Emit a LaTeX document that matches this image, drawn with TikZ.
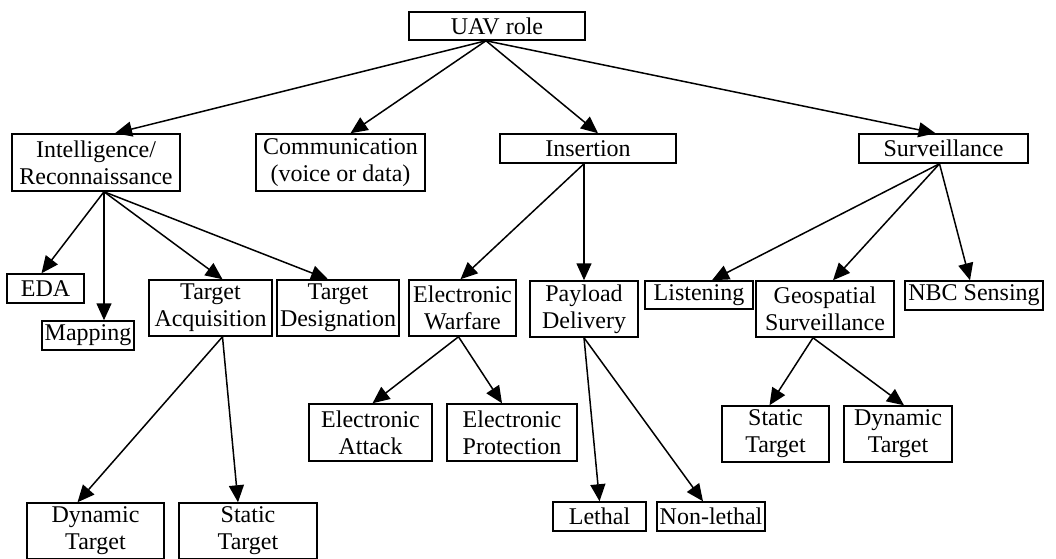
\documentclass[tikz,border=0pt]{standalone}
\usepackage{fontspec}
\setmainfont{Liberation Serif}
\usetikzlibrary{arrows.meta}
\begin{document}
\begin{tikzpicture}[x=1pt,y=-1pt,
  box/.style={draw,line width=1.5pt,inner sep=0pt,align=center,
    font=\fontsize{24}{27}\selectfont},
  arr/.style={line width=1.5pt,-{Triangle[length=17pt,width=15pt]}}]
\clip (0,0) rectangle (1056,558);

% top
\node [box,minimum width=176,minimum height=28] (uav) at (497,26) {UAV role};

% roles
\node [box,minimum width=168,minimum height=57] (intel) at (96,162.5) {Intelligence/\\Reconnaissance};
\node [box,minimum width=169,minimum height=57] (comm) at (340.5,162.5) {Communication\\(voice or data)};
\node [box,minimum width=176,minimum height=29] (insert) at (588,148.5) {Insertion};
\node [box,minimum width=169,minimum height=29] (surv) at (943.5,148.5) {Surveillance};

% third row
\node [box,minimum width=77,minimum height=29] (eda) at (45.5,288.5) {EDA};
\node [box,minimum width=92,minimum height=29] (mapping) at (88,335.5) {Mapping};
\node [box,minimum width=123,minimum height=56] (tacq) at (210.5,308) {Target\\Acquisition};
\node [box,minimum width=122,minimum height=56] (tdes) at (338,308) {Target\\Designation};
\node [box,minimum width=107,minimum height=56] (ewar) at (462.5,308) {Electronic\\Warfare};
\node [box,minimum width=108,minimum height=56] (pay) at (584,309) {Payload\\Delivery};
\node [box,minimum width=108,minimum height=28] (listen) at (699,295) {Listening};
\node [box,minimum width=138,minimum height=56] (geo) at (825,309) {Geospatial\\Surveillance};
\node [box,minimum width=138,minimum height=29] (nbc) at (974,295.5) {NBC Sensing};

% lower rows
\node [box,minimum width=123,minimum height=57] (eatt) at (370.5,432.5) {Electronic\\Attack};
\node [box,minimum width=130,minimum height=57] (eprot) at (512,432.5) {Electronic\\Protection};
\node [box,minimum width=107,minimum height=56] (gstat) at (775.5,434) {Static\\Target};
\node [box,minimum width=108,minimum height=56] (gdyn) at (898,434) {Dynamic\\Target};
\node [box,minimum width=93,minimum height=29] (lethal) at (599.5,516.5) {Lethal};
\node [box,minimum width=108,minimum height=29] (nonlethal) at (711,516.5) {Non-lethal};
\node [box,minimum width=137,minimum height=56] (tdyn) at (95.5,531) {Dynamic\\Target};
\node [box,minimum width=138,minimum height=56] (tstat) at (248,531) {Static\\Target};

% arrows
\draw [arr] ([xshift=-11pt]uav.south) -- ([xshift=19pt]intel.north);
\draw [arr] ([xshift=-11pt]uav.south) -- ([xshift=10pt]comm.north);
\draw [arr] ([xshift=-11pt]uav.south) -- ([xshift=10pt]insert.north);
\draw [arr] ([xshift=-11pt]uav.south) -- ([xshift=-8pt]surv.north);

\draw [arr] ([xshift=8pt]intel.south) -- ([xshift=-4pt]eda.north);
\draw [arr] ([xshift=8pt]intel.south) -- ([xshift=16pt]mapping.north);
\draw [arr] ([xshift=8pt]intel.south) -- ([xshift=12pt]tacq.north);
\draw [arr] ([xshift=8pt]intel.south) -- ([xshift=-10pt]tdes.north);

\draw [arr] ([xshift=-4pt]insert.south) -- ([xshift=-2pt]ewar.north);
\draw [arr] ([xshift=-4pt]insert.south) -- (pay.north);

\draw [arr] ([xshift=-4pt]surv.south) -- ([xshift=13pt]listen.north);
\draw [arr] ([xshift=-4pt]surv.south) -- ([xshift=8pt]geo.north);
\draw [arr] ([xshift=-4pt]surv.south) -- ([xshift=-4pt]nbc.north);

\draw [arr] ([xshift=12pt]tacq.south) -- ([xshift=-18pt]tdyn.north);
\draw [arr] ([xshift=12pt]tacq.south) -- ([xshift=-10pt]tstat.north);

\draw [arr] ([xshift=-4pt]ewar.south) -- ([xshift=2pt]eatt.north);
\draw [arr] ([xshift=-4pt]ewar.south) -- ([xshift=-10pt]eprot.north);

\draw [arr] (pay.south) -- (lethal.north);
\draw [arr] (pay.south) -- ([xshift=-8pt]nonlethal.north);

\draw [arr] ([xshift=-12pt]geo.south) -- ([xshift=-6pt]gstat.north);
\draw [arr] ([xshift=-12pt]geo.south) -- ([xshift=6pt]gdyn.north);
\end{tikzpicture}
\end{document}
